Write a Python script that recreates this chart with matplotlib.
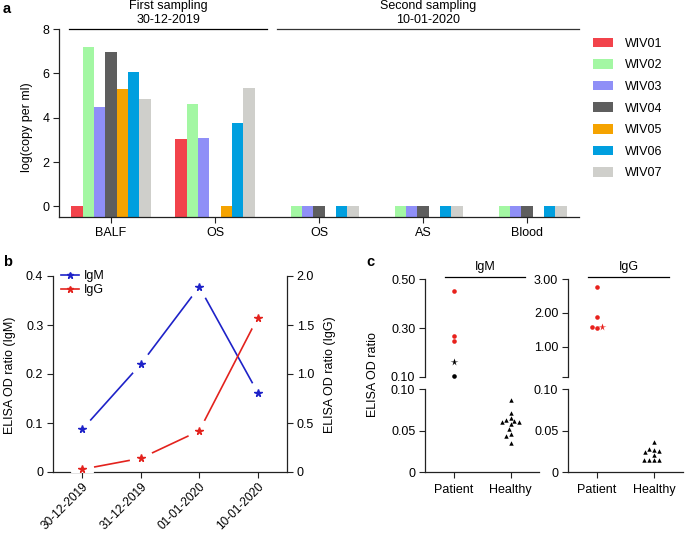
import numpy as np
import matplotlib
matplotlib.use("Agg")
import matplotlib.pyplot as plt
import matplotlib.transforms as mtransforms
from matplotlib.patches import Patch
from matplotlib.lines import Line2D
from matplotlib.ticker import FuncFormatter, FixedLocator

plt.rcParams['font.family'] = ['Liberation Sans', 'DejaVu Sans']
FS = 9
plt.rcParams['font.size'] = FS

# ---------------- data ----------------
# panel a
sites = ["BALF", "OS", "OS", "AS", "Blood"]
strains = ["WIV01", "WIV02", "WIV03", "WIV04", "WIV05", "WIV06", "WIV07"]
strain_colors = ["#f2434b", "#a3f7a3", "#8f8ff7", "#5e5e5e", "#f5a300", "#009fdf", "#cfcfcb"]
nan = np.nan
wiv01 = [0.0, 3.05, nan, nan, nan]
wiv02 = [7.2, 4.6, 0.0, 0.0, 0.0]
wiv03 = [4.48, 3.07, 0.0, 0.0, 0.0]
wiv04 = [6.98, nan, 0.0, 0.0, 0.0]
wiv05 = [5.3, 0.0, nan, nan, nan]
wiv06 = [6.08, 3.78, 0.0, 0.0, 0.0]
wiv07 = [4.85, 5.33, 0.0, 0.0, 0.0]
sampling_titles = ["First sampling\n30-12-2019", "Second sampling\n10-01-2020"]

# panel b
b_dates = ["30-12-2019", "31-12-2019", "01-01-2020", "10-01-2020"]
b_igm = [0.087, 0.22, 0.378, 0.162]
b_igg = [0.028, 0.14, 0.42, 1.575]

# panel c
c_groups = ["Patient", "Healthy"]
igm_patient_red = [0.453, 0.268, 0.247]
igm_patient_black_star = [0.161]
igm_patient_black_dot = [0.103]
igm_healthy = [0.0867, 0.0714, 0.0654, 0.0627, 0.0614, 0.061, 0.0606,
               0.0576, 0.0522, 0.0461, 0.0437, 0.0347]
igg_patient_red_dots = [2.78, 1.87, 1.56, 1.59]
igg_patient_red_star = [1.57]
igg_healthy = [0.036, 0.027, 0.0275, 0.026, 0.0245, 0.021,
               0.0145, 0.0145, 0.0145, 0.0145]

W, H = 685, 533
fig = plt.figure(figsize=(W / 100, H / 100), dpi=100)


def fx(px):
    return px / W


def fy(py):
    return 1 - py / H


def rect(l, t, r, b):
    return [fx(l), fy(b), (r - l) / W, (b - t) / H]


SPC = "#222222"
tick_kw = dict(direction='out', length=4.5, width=0.8, labelsize=FS, pad=2.5, color=SPC)

# ---------------- panel a ----------------
axA = fig.add_axes(rect(59, 29, 579, 217))
ylow = -0.48
x = np.arange(len(sites))
bw = 0.109
series = [wiv01, wiv02, wiv03, wiv04, wiv05, wiv06, wiv07]
for i, (vals, col) in enumerate(zip(series, strain_colors)):
    v = np.array(vals, dtype=float)
    m = ~np.isnan(v)
    axA.bar(x[m] + (i - 3) * bw, v[m] - ylow, bottom=ylow, width=bw,
            color=col, edgecolor='none', zorder=2)
axA.set_xlim(-0.5, 4.5)
axA.set_ylim(ylow, 8)
axA.set_yticks([0, 2, 4, 6, 8])
axA.set_xticks(x)
axA.set_xticklabels(sites)
for s in ['top', 'right']:
    axA.spines[s].set_visible(False)
for s in ['left', 'bottom']:
    axA.spines[s].set_linewidth(0.9)
    axA.spines[s].set_color(SPC)
axA.tick_params(**tick_kw)
fig.text(fx(27), fy(127), "log(copy per ml)", rotation=90, ha='center', va='center')

# header lines and titles
axA.plot([-0.4, 1.5], [8, 8], color='k', lw=0.9, clip_on=False)
axA.plot([1.6, 4.5], [8, 8], color='#333333', lw=0.9, clip_on=False)
blend = mtransforms.blended_transform_factory(axA.transData, fig.transFigure)
axA.text((-0.4 + 1.5) / 2, fy(13), sampling_titles[0], transform=blend,
         ha='center', va='center', linespacing=1.15)
axA.text((1.6 + 4.5) / 2, fy(13), sampling_titles[1], transform=blend,
         ha='center', va='center', linespacing=1.15)

handles = [Patch(facecolor=c, edgecolor='none', label=s) for s, c in zip(strains, strain_colors)]
fig.legend(handles=handles, loc='upper left', bbox_to_anchor=(fx(593), fy(37.5)),
           frameon=False, borderpad=0, borderaxespad=0, handlelength=1.6,
           handleheight=0.8, handletextpad=0.95, labelspacing=0.76, fontsize=FS)

fig.text(fx(3), fy(9), "a", fontweight='bold', fontsize=10.5, ha='left', va='center')

# ---------------- panel b ----------------
axB = fig.add_axes(rect(53, 276, 287, 472))
axB2 = axB.twinx()
xb = np.arange(len(b_dates))
blue = "#1e22c8"
red = "#e3221d"
axB.plot(xb, b_igm, color=blue, lw=1.2, zorder=2)
axB.plot(xb, b_igm, ls='none', marker='o', ms=17, mfc='white', mec='none', zorder=2.1)
axB.plot(xb, b_igm, ls='none', marker='*', ms=5.5, color=blue, zorder=2.2, clip_on=False)
axB2.plot(xb, b_igg, color=red, lw=1.2, zorder=2)
axB2.plot(xb, b_igg, ls='none', marker='o', ms=17, mfc='white', mec='none', zorder=2.1)
axB2.plot(xb, b_igg, ls='none', marker='*', ms=5.5, color=red, zorder=2.2, clip_on=False)
axB.set_xlim(-0.5, 3.5)
axB.set_ylim(0, 0.4)
axB2.set_ylim(0, 2.0)
axB.set_yticks([0, 0.1, 0.2, 0.3, 0.4])
axB2.set_yticks([0, 0.5, 1.0, 1.5, 2.0])
fmt = FuncFormatter(lambda v, p: "0" if abs(v) < 1e-9 else f"{v:.1f}")
axB.yaxis.set_major_formatter(fmt)
axB2.yaxis.set_major_formatter(fmt)
axB.set_xticks(xb)
axB.set_xticklabels(b_dates, rotation=45, ha='right', va='top', rotation_mode='anchor',
                    fontsize=8.6)
axB.spines['top'].set_visible(False)
axB2.spines['top'].set_visible(False)
axB.spines['right'].set_visible(False)
axB2.spines['left'].set_visible(False)
axB2.spines['bottom'].set_visible(False)
for a_, s in [(axB, 'left'), (axB, 'bottom'), (axB2, 'right')]:
    a_.spines[s].set_linewidth(0.9)
    a_.spines[s].set_color(SPC)
axB.tick_params(**tick_kw)
axB2.tick_params(**tick_kw)
axB.tick_params(axis='x', pad=2, labelsize=8.6)
fig.text(fx(10), fy(375), "ELISA OD ratio (IgM)", rotation=90, ha='center', va='center')
fig.text(fx(330), fy(375), "ELISA OD ratio (IgG)", rotation=90, ha='center', va='center')
leg_h = [Line2D([], [], color=blue, lw=1.2, marker='*', ms=5),
         Line2D([], [], color=red, lw=1.2, marker='*', ms=5)]
fig.legend(handles=leg_h, labels=["IgM", "IgG"], loc='upper left',
           bbox_to_anchor=(fx(61), fy(270)), frameon=False, borderpad=0,
           borderaxespad=0, handlelength=1.4, handletextpad=0.45,
           labelspacing=0.15, numpoints=1, fontsize=FS)
fig.text(fx(3), fy(262), "b", fontweight='bold', fontsize=10.5, ha='left', va='center')


# ---------------- panel c ----------------
def swarm(ax, xc, values, dmin=4.6, step=0.5):
    pts = ax.transData.transform([(xc, v) for v in values])
    ys = pts[:, 1]
    placed = []
    offs = []
    for y in ys:
        k = 0
        found = None
        while found is None:
            cands = [0.0] if k == 0 else [-k * step, k * step]
            for c in cands:
                if all((c - px) ** 2 + (y - py) ** 2 >= dmin ** 2 for px, py in placed):
                    found = c
                    break
            k += 1
        placed.append((found, y))
        offs.append(found)
    x0 = ax.transData.transform((0, 0))[0]
    x1 = ax.transData.transform((1, 0))[0]
    return xc + np.array(offs) / (x1 - x0)


def broken_panel(left, right, up_lim, up_ticks, up_labels, low_points, up_points, title):
    axU = fig.add_axes(rect(left, 279.3, right, 377))
    axL = fig.add_axes(rect(left, 389.3, right, 472.3))
    for a_ in (axU, axL):
        a_.set_xlim(-0.5, 1.5)
        a_.spines['top'].set_visible(False)
        a_.spines['right'].set_visible(False)
        a_.patch.set_alpha(0)
        for s in ('left', 'bottom'):
            a_.spines[s].set_linewidth(0.9)
            a_.spines[s].set_color(SPC)
        a_.tick_params(**tick_kw)
    axU.spines['bottom'].set_visible(False)
    axU.set_xticks([])
    axU.set_ylim(*up_lim)
    axU.yaxis.set_major_locator(FixedLocator(up_ticks))
    axU.set_yticklabels(up_labels)
    axL.set_ylim(0, 0.1)
    axL.set_yticks([0, 0.05, 0.1])
    axL.set_yticklabels(["0", "0.05", "0.10"])
    axL.set_xticks([0, 1])
    axL.set_xticklabels(c_groups)
    axL.tick_params(axis='x', pad=4)
    for ax_, pts in ((axU, up_points), (axL, low_points)):
        allv = [v for vals, _, _, _, _ in pts for v in vals]
        xs_all = swarm(ax_, pts[0][1], allv)
        i = 0
        for vals, xc, mk, col, ms in pts:
            n = len(vals)
            ax_.plot(xs_all[i:i + n], vals, ls='none', marker=mk, color=col, ms=ms,
                     mec='none', clip_on=False, zorder=3)
            i += n
    tr = mtransforms.blended_transform_factory(axU.transData, axU.transAxes)
    axU.plot([-0.15, 1.25], [1.02, 1.02], color='k', lw=0.9, clip_on=False, transform=tr)
    axU.text(0.55, 1.06, title, ha='center', va='bottom', transform=tr)
    return axU, axL


dot_ms = 3.3
tri_ms = 3.2
star_ms = 5.5
broken_panel(425, 539.4, (0.1, 0.5), [0.1, 0.3, 0.5], ["0.10", "0.30", "0.50"],
             [(igm_healthy, 1, '^', 'k', tri_ms)],
             [(igm_patient_red, 0, 'o', '#e8211c', dot_ms),
              (igm_patient_black_star, 0, '*', 'k', star_ms),
              (igm_patient_black_dot, 0, 'o', 'k', dot_ms)], "IgM")
broken_panel(568, 683, (0.1, 3.0), [0.1, 1.0, 2.0, 3.0], ["", "1.00", "2.00", "3.00"],
             [(igg_healthy, 1, '^', 'k', tri_ms)],
             [(igg_patient_red_dots, 0, 'o', '#e8211c', dot_ms),
              (igg_patient_red_star, 0, '*', '#e8211c', star_ms)], "IgG")
fig.text(fx(373), fy(375), "ELISA OD ratio", rotation=90, ha='center', va='center')
fig.text(fx(366), fy(262), "c", fontweight='bold', fontsize=10.5, ha='left', va='center')

fig.savefig("out.png", dpi=100)
